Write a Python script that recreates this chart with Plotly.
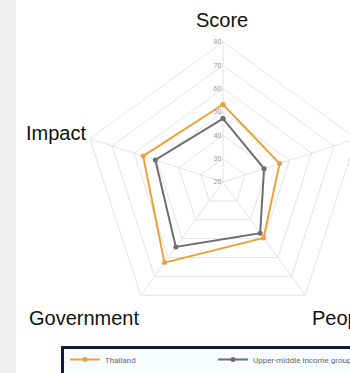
import plotly.graph_objects as go

categories = ["Score", "Technology", "People", "Government", "Impact"]
thailand = [53.2, 45.5, 49.6, 62.7, 56.0]
upper_middle = [47.2, 38.5, 47.1, 54.4, 50.5]
radial_ticks = [20, 30, 40, 50, 60, 70, 80]

# label placement (pixels from top-left) and anchors
label_pos = {
    "Score": (222, 20, "center"),
    "Technology": (362, 136, "left"),
    "People": (310, 318, "left"),
    "Government": (141, 318, "right"),
    "Impact": (88, 133, "right"),
}

W, H = 420, 400
cx, cy, R = 223, 182, 140

fig = go.Figure()
fig.add_trace(go.Scatterpolar(
    r=thailand + thailand[:1], theta=categories + categories[:1],
    name="Thailand", mode="lines+markers",
    line=dict(color="#eba23a", width=2), marker=dict(size=5, color="#eba23a")))
fig.add_trace(go.Scatterpolar(
    r=upper_middle + upper_middle[:1], theta=categories + categories[:1],
    name="Upper-middle income group", mode="lines+markers",
    line=dict(color="#6d6d72", width=2), marker=dict(size=5, color="#6d6d72")))

annotations = []
for cat in categories:
    x, y, anc = label_pos[cat]
    annotations.append(dict(text=cat, xref="paper", yref="paper", x=x / W, y=1 - y / H,
                            xanchor=anc, yanchor="middle", showarrow=False,
                            font=dict(size=20, color="#111", family="Liberation Sans, Arial, sans-serif")))

fig.update_layout(
    width=W, height=H, margin=dict(l=0, r=0, t=0, b=0),
    paper_bgcolor="white", plot_bgcolor="white",
    font=dict(family="Liberation Sans, Arial, sans-serif", color="#000"),
    polar=dict(
        domain=dict(x=[(cx - R) / W, (cx + R) / W], y=[1 - (cy + R) / H, 1 - (cy - R) / H]),
        gridshape="linear", bgcolor="white",
        angularaxis=dict(rotation=90, direction="clockwise", categoryorder="array",
                         categoryarray=categories,
                         showline=True, linecolor="#e3e3e3", linewidth=1,
                         gridcolor="#e3e3e3", ticks="", showticklabels=False),
        radialaxis=dict(range=[20, 80], tickvals=radial_ticks, angle=90, side="counterclockwise",
                        tickangle=90, showline=False, ticks="", gridcolor="#e3e3e3",
                        tickfont=dict(size=7, color="#9a9a9a", family="Roboto"))),
    legend=dict(orientation="h", x=65 / W, y=1 - 345 / H, xanchor="left", yanchor="top",
                bgcolor="rgba(0,0,0,0)", borderwidth=0,
                font=dict(size=8, color="#666", family="Roboto"),
                entrywidth=103, entrywidthmode="pixels"),
    annotations=annotations,
    shapes=[dict(type="rect", xref="paper", yref="paper", x0=0, x1=16 / W, y0=0, y1=1,
                 fillcolor="#f0f0f0", line=dict(width=0), layer="below"),
            dict(type="rect", xref="paper", yref="paper", x0=62.5 / W, x1=1.2, y0=-0.2, y1=1 - 347.5 / H,
                 fillcolor="#f8fcfe", line=dict(width=3, color="#0c1e45"), layer="below")],
)

fig.write_html("out.html", post_script="document.documentElement.style.overflow='hidden';document.body.style.overflow='hidden';")
